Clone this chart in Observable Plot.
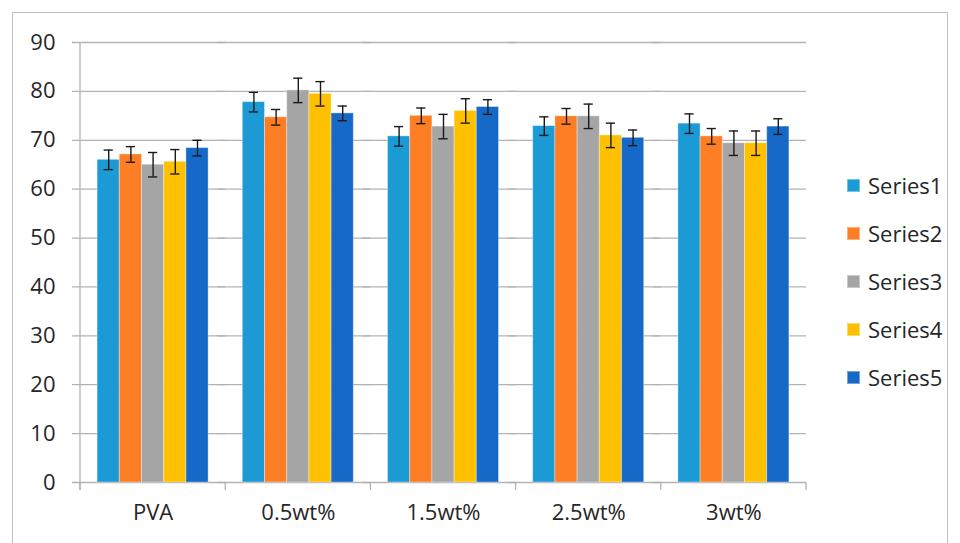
<!DOCTYPE html>
<html><head><meta charset="utf-8">
<script src="https://cdn.jsdelivr.net/npm/d3@7"></script>
<script src="https://cdn.jsdelivr.net/npm/@observablehq/plot@0.6"></script>
<style>
body{margin:0;background:#fff;overflow:hidden}
#wrap{position:relative;width:960px;height:543px;overflow:hidden;font-family:"Open Sans",sans-serif;background:#fff}
#border{position:absolute;left:12px;top:12px;width:936px;height:600px;border:1.5px solid #bdbdbd;box-sizing:border-box;pointer-events:none}
#chart{position:absolute;left:0;top:0}
#legend{position:absolute;left:847px;top:161px}
.item{display:flex;align-items:center;height:48px;font-size:22px;color:#262626}
.sw{width:13px;height:13px;margin-right:8px;box-sizing:border-box}
</style></head>
<body>
<div id="wrap"><div id="border"></div><div id="chart"></div><div id="legend"></div></div>
<script>
const categories = ["PVA", "0.5wt%", "1.5wt%", "2.5wt%", "3wt%"];
const seriesNames = ["Series1", "Series2", "Series3", "Series4", "Series5"];
const colors = ["#1b9ad6", "#fd7e24", "#a5a5a5", "#ffc000", "#1669c7"];
const series1 = [66.0, 77.8, 70.8, 72.9, 73.4];
const series2 = [67.1, 74.7, 75.0, 74.9, 70.8];
const series3 = [65.0, 80.2, 72.8, 74.9, 69.4];
const series4 = [65.6, 79.5, 76.0, 71.0, 69.4];
const series5 = [68.4, 75.5, 76.8, 70.5, 72.8];
const err1 = [2.0, 2.0, 2.0, 1.9, 2.0];
const err2 = [1.6, 1.6, 1.6, 1.6, 1.6];
const err3 = [2.5, 2.5, 2.5, 2.5, 2.5];
const err4 = [2.5, 2.5, 2.5, 2.5, 2.5];
const err5 = [1.6, 1.5, 1.5, 1.6, 1.6];
const yTicks = [0, 10, 20, 30, 40, 50, 60, 70, 80, 90];

const values = [series1, series2, series3, series4, series5];
const errs = [err1, err2, err3, err4, err5];
const data = [];
categories.forEach((c, i) => seriesNames.forEach((s, j) => {
  data.push({cat: c, series: s, value: values[j][i], lo: values[j][i] - errs[j][i], hi: values[j][i] + errs[j][i]});
}));

const plot = Plot.plot({
  width: 960, height: 543,
  marginLeft: 80, marginRight: 154, marginTop: 42, marginBottom: 61,
  style: {fontFamily: "'Open Sans', sans-serif", fontSize: "22px", color: "#262626", background: "transparent"},
  fx: {domain: categories, padding: 0, label: null, round: false},
  x: {domain: seriesNames, paddingInner: 0, paddingOuter: 0.77, round: false, axis: null},
  y: {domain: [0, 90], label: null},
  color: {domain: seriesNames, range: colors},
  marks: [
    Plot.ruleY(yTicks, {stroke: "#b3b3b3", strokeWidth: 1.3, insetLeft: -8}),
    Plot.barY(data, {fx: "cat", x: "series", y: "value", fill: "series", stroke: "#ffffff", strokeOpacity: 0.35, strokeWidth: 1}),
    Plot.ruleX(data, {fx: "cat", x: "series", y1: "lo", y2: "hi", stroke: "#1a1a1a", strokeWidth: 1.4}),
    Plot.tickY(data, {fx: "cat", x: "series", y: "lo", stroke: "#1a1a1a", strokeWidth: 1.4, inset: 6.5}),
    Plot.tickY(data, {fx: "cat", x: "series", y: "hi", stroke: "#1a1a1a", strokeWidth: 1.4, inset: 6.5}),
    Plot.axisY({ticks: yTicks, tickSize: 0, tickPadding: 25, tickFormat: d => String(d)}),
    Plot.axisFx({anchor: "bottom", tickSize: 0, tickPadding: 22, label: null})
  ]
});
document.getElementById("chart").appendChild(plot);

// axis lines and category boundary ticks, positioned by Plot's own scales
const fx = plot.scale("fx"), y = plot.scale("y");
const svg = d3.select(plot);
const y0 = y.apply(0), yTop = y.apply(90);
const left = fx.apply(categories[0]);
const g = svg.append("g").attr("stroke", "#b3b3b3").attr("stroke-width", 1.3);
g.append("line").attr("x1", left).attr("x2", left).attr("y1", yTop).attr("y2", y0 + 8);
const bounds = categories.map(c => fx.apply(c)).concat([fx.apply(categories[categories.length - 1]) + fx.bandwidth]);
bounds.forEach(b => g.append("line").attr("x1", b).attr("x2", b).attr("y1", y0).attr("y2", y0 + 8));

const legend = d3.select("#legend");
seriesNames.forEach((s, i) => {
  const it = legend.append("div").attr("class", "item");
  it.append("div").attr("class", "sw").style("background", colors[i]).style("border", "1px solid rgba(255,255,255,0.4)");
  it.append("span").text(s);
});
</script>
</body></html>
